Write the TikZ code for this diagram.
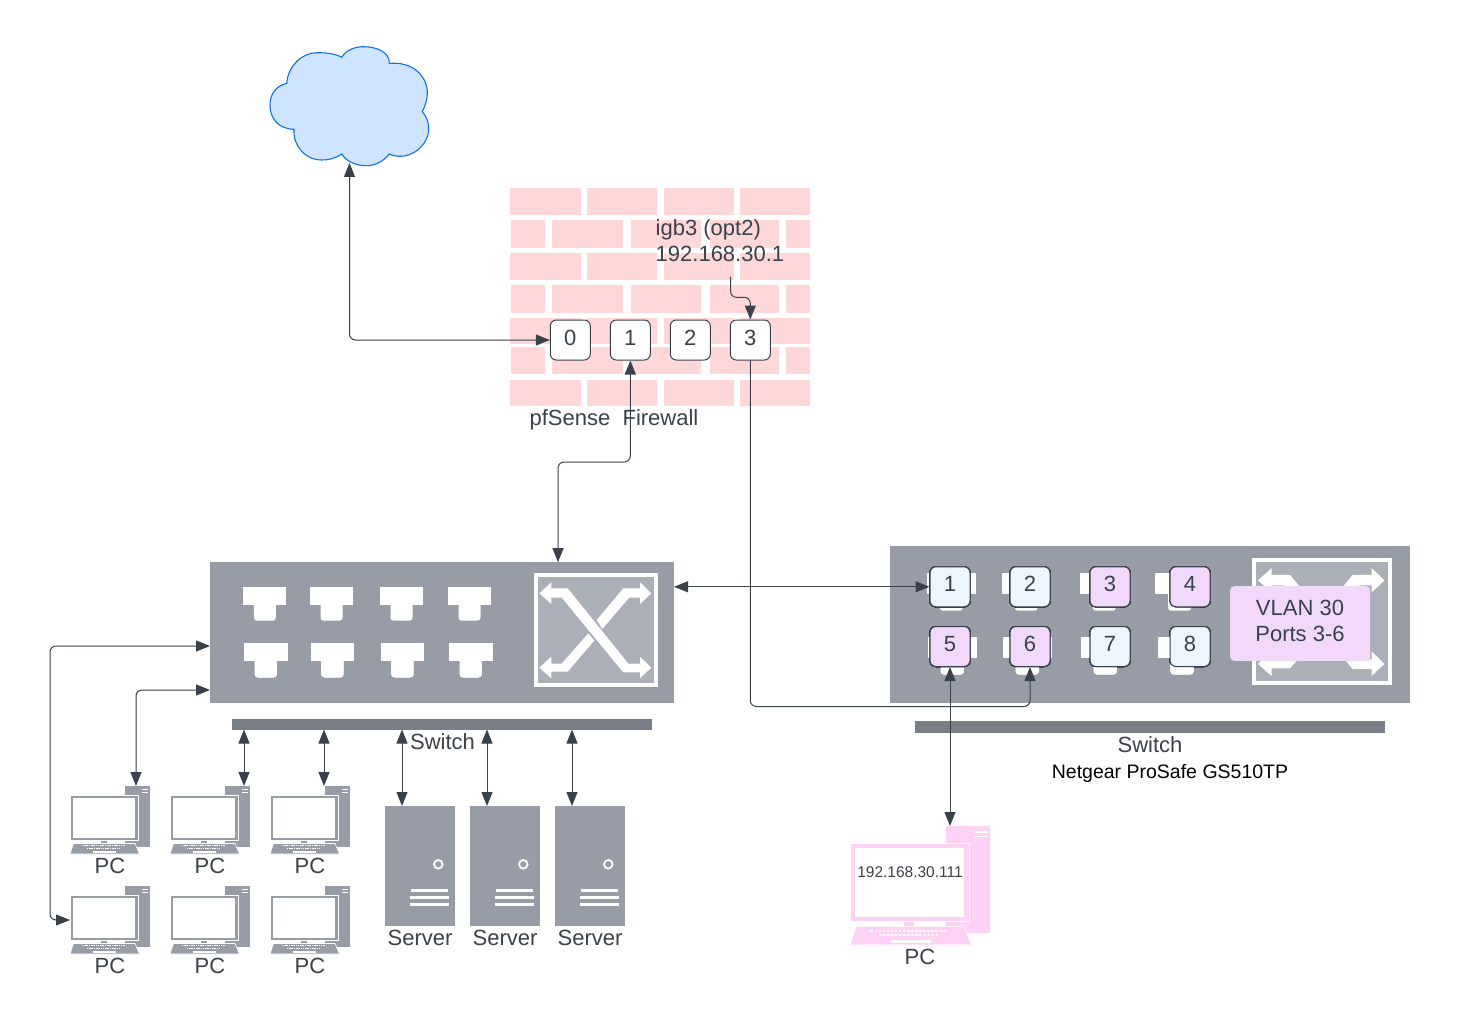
\documentclass[tikz,border=0pt]{standalone}
\usepackage{fontspec}
\setmainfont{Liberation Sans}
\usetikzlibrary{arrows.meta,calc}
\definecolor{ink}{HTML}{3A414A}
\definecolor{brick}{HTML}{FFD7D9}
\definecolor{swgray}{HTML}{979CA6}
\definecolor{boxgray}{HTML}{ABAFB8}
\definecolor{bargray}{HTML}{7A7E87}
\definecolor{cloudfill}{HTML}{CFE4FF}
\definecolor{cloudline}{HTML}{1071E5}
\definecolor{portblue}{HTML}{EDF5FF}
\definecolor{portpurple}{HTML}{F2D9FC}
\definecolor{pinkpc}{HTML}{FDD2F4}
\tikzset{
  lbl/.style={anchor=base,text=ink,inner sep=0pt,font=\fontsize{22}{26}\selectfont},
  portbox/.style={draw=ink,line width=1pt,rounded corners=6pt,minimum width=40pt,minimum height=40pt,inner sep=0pt,
    text=ink,font=\fontsize{22}{26}\selectfont,text height=15.8pt,text depth=5.5pt},
  swbox/.style={fill=swgray,inner sep=0pt,outer sep=0pt},
  barbox/.style={fill=bargray,inner sep=0pt,outer sep=0pt},
  ghost/.style={inner sep=0pt,outer sep=0pt},
  conn/.style={draw=ink,line width=1pt,rounded corners=6pt},
  one/.style={conn,-{Triangle[length=14pt,width=11pt]}},
  two/.style={conn,{Triangle[length=14pt,width=11pt]}-{Triangle[length=14pt,width=11pt]}},
}
% T-shaped switch port: left, top, bar w, bar h, stem w, total h
\newcommand{\tport}[6]{%
  \fill[white] (#1,#2) rectangle ++(#3,#4);
  \fill[white,rounded corners=3pt]
    ({#1+(#3-#5)/2},{#2+#4-4}) -- ({#1+(#3+#5)/2},{#2+#4-4}) -- ({#1+(#3+#5)/2},{#2+#6}) -- ({#1+(#3-#5)/2},{#2+#6}) -- cycle;
}
% Crossing arrows in a 124 x 114 box, local origin top left
\newcommand{\crossarrows}{%
  \fill[boxgray,draw=white,line width=4pt] (2,2) rectangle (122,111.5);
  \fill[white] (117.3,20) -- (106,9) -- (106,15) -- (89.3,15) -- (62.7,46.7) -- (68.3,55.7) -- (95.3,24.3) -- (106,24.3) -- (106,30.7) -- cycle;
  \fill[white] (5.3,94.3) -- (17.3,83.3) -- (17.3,90.3) -- (27.7,90.3) -- (54.3,60) -- (60.3,67.3) -- (33.7,98.3) -- (17.3,98.3) -- (17.3,105) -- cycle;
  \fill[white] (5.3,20) -- (17.3,9) -- (17.3,15) -- (33.7,15) -- (94.3,90.3) -- (106,90.3) -- (106,83.3) -- (117.3,94.3) -- (106,105) -- (106,99) -- (89.3,99) -- (27.7,24.3) -- (17.3,24.3) -- (17.3,30.7) -- cycle;
}
% PC icon: name, left, top, scale, colour
\newcommand{\pcicon}[5]{%
  \pgfmathsetlengthmacro{\kon}{1.6pt*#4}%
  \pgfmathsetlengthmacro{\koff}{0.7pt*#4}%
  \begin{scope}[shift={(#2,#3)},scale=#4]
    \fill[#5] (55,0) rectangle (80,61.3);
    \fill[white] (71.7,3) rectangle (78.3,3.9);
    \fill[white] (71.7,5.6) rectangle (78.3,6.5);
    \fill[#5,draw=white,line width=.6pt] (0,9.7) rectangle (68,54.7);
    \fill[white] (3,12.3) rectangle (65,52);
    \fill[#5] (31,54.7) rectangle (36.7,57.6);
    \fill[#5,draw=white,line width=.6pt] (3.6,57.5) -- (65,57.5) -- (69.5,68) -- (0,68) -- cycle;
    \draw[white,line width=1pt*#4,dash pattern=on \kon off \koff] (11.7,59.8) -- (55,59.8);
    \draw[white,line width=1pt*#4,dash pattern=on \kon off \koff] (16.7,62.2) -- (50,62.2);
    \fill[white] (23.3,65.4) rectangle (46,66.9);
  \end{scope}
  \node[ghost,anchor=north west,minimum width=80*#4,minimum height=68*#4] (#1) at (#2,#3) {};
}
% Server: name, left
\newcommand{\servericon}[2]{%
  \node[swbox,anchor=north west,minimum width=70,minimum height=120] (#1) at (#2,806) {};
  \draw[white,line width=1.8pt] ({#2+53.3},864.3) circle (4.3);
  \draw[white,line width=2.6pt] ({#2+25.5},890.3) -- ({#2+62.5},890.3);
  \draw[white,line width=3pt] ({#2+25},897.3) -- ({#2+64},897.3);
  \draw[white,line width=3pt] ({#2+25},904.7) -- ({#2+64},904.7);
}
\begin{document}
\begin{tikzpicture}[x=1pt,y=-1pt]
\useasboundingbox (0,0) rectangle (1480,1024);

% cloud
\node[ghost,minimum width=159,minimum height=116] (cloud) at (349.5,105) {};
\fill[cloudfill,draw=cloudline,line width=1.1pt]
  (341.7,57.3)
  .. controls (346,50) and (355,46.7) .. (363.3,46.7)
  .. controls (378,46.7) and (390,53) .. (389.3,63.5)
  .. controls (412,61) and (428,76) .. (427.3,94)
  .. controls (427,101) and (425,106) .. (422.3,111.7)
  .. controls (428,118) and (429,125) .. (428.5,131)
  .. controls (427,148) and (407,162) .. (389.3,154)
  .. controls (383,162) and (374,165.7) .. (366.7,165.7)
  .. controls (355,165.7) and (346,161) .. (341.7,154)
  .. controls (334,159) and (328,160) .. (322,160)
  .. controls (305,160) and (293,146) .. (294,129.3)
  .. controls (278,129) and (270,118) .. (270,105)
  .. controls (270,94) and (276,86) .. (286.7,83.3)
  .. controls (288,66) and (302,52.7) .. (317,52.7)
  .. controls (326,52.7) and (335,53.5) .. (341.7,57.3)
  -- cycle;

% firewall bricks
\foreach \ya/\yb in {188.5/215,253.3/280,317.7/344,380/406}
  \foreach \xa/\xb in {510/581,586.7/656.7,664/734,740/810.3}
    \fill[brick] (\xa,\ya) rectangle (\xb,\yb);
\foreach \ya/\yb in {220/247.7,285.3/312.7,347.3/374.3}
  \foreach \xa/\xb in {511/545,552.3/622.7,631/701,710/779.3,785.7/810}
    \fill[brick] (\xa,\ya) rectangle (\xb,\yb);

% firewall ports
\foreach \n/\cx in {0/570.3,1/630.3,2/690.3,3/750.3}
  \node[portbox,fill=white] (fw\n) at (\cx,340) {\n};

% left switch
\node[swbox,anchor=north west,minimum width=464,minimum height=140.3] (swL) at (210,562.2) {};
\foreach \xx in {243.3,310,380,448} \tport{\xx}{586.7}{43}{18}{22}{34}
\foreach \xx in {244,310.7,380.7,449} \tport{\xx}{643.3}{43.5}{18}{22}{34}
\begin{scope}[shift={(534,573.3)}]\crossarrows\end{scope}
\node[barbox,anchor=north west,minimum width=419.5,minimum height=11] (barL) at (232.3,718.5) {};

% right switch
\node[swbox,anchor=north west,minimum width=519.5,minimum height=156.5] (swR) at (890,546) {};
\foreach \xx in {927,1002,1080,1155.4} \tport{\xx}{573.3}{48.5}{20.6}{23}{37.4}
\foreach \xx in {928,1003,1081,1157.8} \tport{\xx}{637}{48.5}{20.6}{23}{37.4}
\begin{scope}[shift={(1252,558)},xscale=1.129,yscale=1.123]\crossarrows\end{scope}
\foreach \n/\cx/\cy/\col in {1/950/586.8/portblue,2/1030/586.8/portblue,3/1110/586.8/portpurple,4/1190/586.8/portpurple,
                             5/950/646.5/portpurple,6/1030/646.5/portpurple,7/1110/646.5/portblue,8/1190/646.5/portblue}
  \node[portbox,fill=\col] (sw\n) at (\cx,\cy) {\n};
\node[fill=portpurple,rounded corners=4pt,anchor=north west,minimum width=140,minimum height=74.7,inner sep=0pt] (vlan) at (1230,586) {};
\node[lbl] (vlanA) at (1300,615) {VLAN 30};
\node[lbl] (vlanB) at (1300,641.5) {Ports 3-6};
\node[barbox,anchor=north west,minimum width=469.5,minimum height=12] (barR) at (915,721) {};

% PCs
\pcicon{pc1}{70}{786}{1}{swgray}
\pcicon{pc2}{170}{786}{1}{swgray}
\pcicon{pc3}{270}{786}{1}{swgray}
\pcicon{pc4}{70}{886}{1}{swgray}
\pcicon{pc5}{170}{886}{1}{swgray}
\pcicon{pc6}{270}{886}{1}{swgray}
\pcicon{pcv}{850}{826}{1.75}{pinkpc}

% servers
\servericon{srvA}{385}
\servericon{srvB}{470}
\servericon{srvC}{555}

% labels
\node[lbl] (lpc1) at (110,873.3) {PC};
\node[lbl] (lpc2) at (210,873.3) {PC};
\node[lbl] (lpc3) at (310,873.3) {PC};
\node[lbl] (lpc4) at (110,973.3) {PC};
\node[lbl] (lpc5) at (210,973.3) {PC};
\node[lbl] (lpc6) at (310,973.3) {PC};
\node[lbl] (lsa) at (420,945) {Server};
\node[lbl] (lsb) at (505,945) {Server};
\node[lbl] (lsc) at (590,945) {Server};
\node[lbl] (lswL) at (442.5,749) {Switch};
\node[lbl] (lswR) at (1150,752.7) {Switch};
\node[lbl,text=black,font=\fontsize{19.5}{23}\selectfont] (lnet) at (1170,778.8) {Netgear ProSafe GS510TP};
\node[lbl] (lfw) at (614,425) {pfSense\ \ Firewall};
\node[lbl,anchor=base west] (ligb) at (655.5,235.5) {igb3 (opt2)};
\node[lbl,anchor=base west] (lip) at (655.5,261.8) {192.168.30.1};
\node[lbl] (lpcv) at (920,964.3) {PC};
\node[lbl,font=\fontsize{15.5}{18}\selectfont] (lipv) at (910,877) {192.168.30.111};

% connector ends
\coordinate (igbsrc) at (730.5,277);
\coordinate (swLtop) at (558,562.2);
\coordinate (swLa) at (210,646);
\coordinate (swLb) at (210,690);
\coordinate (pc1in) at ([xshift=-14pt]pc1.north east);
\coordinate (pc2in) at ([xshift=-6pt]pc2.north east);
\coordinate (pc3in) at ([xshift=-26pt]pc3.north east);
\coordinate (pcvin) at (950,826);
\coordinate (srvAin) at ([xshift=-18pt]srvA.north);
\coordinate (srvBin) at ([xshift=-18pt]srvB.north);
\coordinate (srvCin) at ([xshift=-18pt]srvC.north);

% connectors
\draw[two] (cloud.south) |- (fw0.west);
\draw[two] (fw1.south) -- (630.3,462) -- (558,462) -- (swLtop);
\draw[one,rounded corners=0pt] (igbsrc) -- (730.5,291)
   .. controls (730.5,295) and (733,297.3) .. (737,297.3)
   -- (744,297.3) .. controls (748,297.3) and (750.3,300) .. (750.3,304) -- (fw3.north);
\draw[one] (fw3.south) -- (750.3,706.5) -- (1030,706.5) -- (sw6.south);
\draw[two] (sw5.south) -- (pcvin);
\draw[two] (swL.east |- sw1.west) -- (sw1.west);
\draw[two] (swLa) -- (50,646) -- (50,920) -- (pc4.west);
\draw[two] (swLb) -| (pc1in);
\draw[two] (pc2in |- barL.south) -- (pc2in);
\draw[two] (pc3in |- barL.south) -- (pc3in);
\draw[two] (srvAin |- barL.south) -- (srvAin);
\draw[two] (srvBin |- barL.south) -- (srvBin);
\draw[two] (srvCin |- barL.south) -- (srvCin);
\end{tikzpicture}
\end{document}
